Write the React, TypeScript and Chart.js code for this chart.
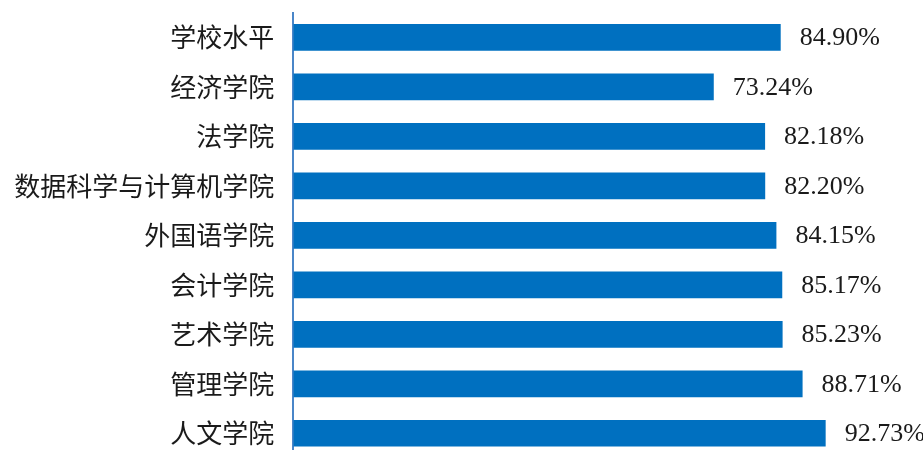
import React, { useEffect, useRef } from "react";
import { Chart, registerables } from "chart.js";

Chart.register(...registerables);

const categories = [
  "学校水平",
  "经济学院",
  "法学院",
  "数据科学与计算机学院",
  "外国语学院",
  "会计学院",
  "艺术学院",
  "管理学院",
  "人文学院",
];
const values = [84.9, 73.24, 82.18, 82.2, 84.15, 85.17, 85.23, 88.71, 92.73];
const valueLabels = ["84.90%", "73.24%", "82.18%", "82.20%", "84.15%", "85.17%", "85.23%", "88.71%", "92.73%"];

const valueLabelPlugin = {
  id: "valueLabels",
  afterDatasetsDraw(chart: any) {
    const ctx = chart.ctx;
    const meta = chart.getDatasetMeta(0);
    ctx.save();
    ctx.font = '26px "Liberation Serif", "Times New Roman", serif';
    ctx.fillStyle = "#1a1a1a";
    ctx.textAlign = "left";
    ctx.textBaseline = "middle";
    meta.data.forEach((bar: any, i: number) => {
      ctx.fillText(valueLabels[i], bar.x + 19, bar.y + 1);
    });
    ctx.restore();
  },
};

export default function App() {
  const ref = useRef<HTMLCanvasElement | null>(null);
  useEffect(() => {
    if (!ref.current) return;
    const chart = new Chart(ref.current, {
      type: "bar",
      data: {
        labels: categories,
        datasets: [
          {
            data: values,
            backgroundColor: "#0070C0",
            borderWidth: 0,
            categoryPercentage: 1,
            barPercentage: 0.54,
          },
        ],
      },
      options: {
        indexAxis: "y",
        animation: false,
        responsive: false,
        maintainAspectRatio: false,
        layout: { padding: { top: 12.7, right: 55.6, bottom: 0, left: 0 } },
        plugins: {
          legend: { display: false },
          tooltip: { enabled: false },
        },
        scales: {
          x: {
            display: false,
            min: 0,
            max: 100,
          },
          y: {
            grid: { display: false, drawTicks: false },
            border: { display: true, color: "#4a86c8", width: 2 },
            ticks: {
              padding: 19,
              color: "#1a1a1a",
              font: { family: '"Noto Sans CJK SC", sans-serif', size: 26 },
            },
            afterFit(scale: any) {
              scale.width = 293.3;
              scale.paddingTop = 0;
              scale.paddingBottom = 0;
            },
          },
        },
      },
      plugins: [valueLabelPlugin],
    });
    return () => chart.destroy();
  }, []);
  return (
    <div
      style={{
        position: "fixed",
        left: 0,
        top: 0,
        width: 923,
        height: 450,
        overflow: "hidden",
        background: "#fff",
      }}
    >
      <canvas ref={ref} width={923} height={458} style={{ width: 923, height: 458, display: "block" }} />
    </div>
  );
}
